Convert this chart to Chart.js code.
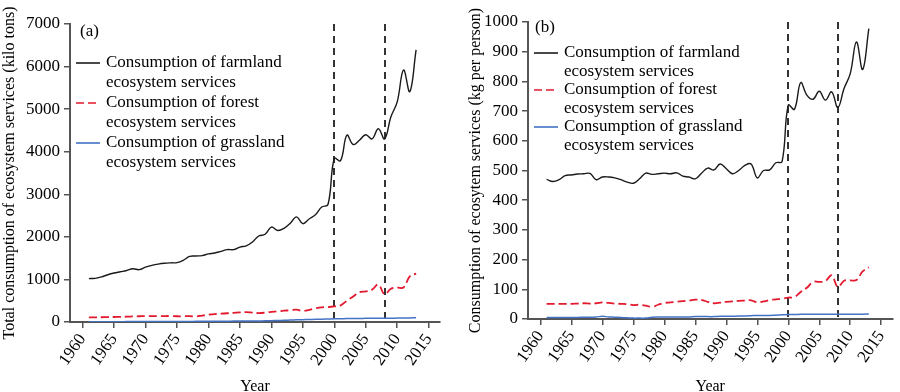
<!DOCTYPE html>
<html>
<head>
<meta charset="utf-8">
<script src="https://cdn.jsdelivr.net/npm/chart.js@4.4.1/dist/chart.umd.min.js"></script>
<style>
  html, body { margin: 0; padding: 0; background: #fff; }
  .panel { position: absolute; top: 0; width: 450px; height: 392px; }
  #wrapA { left: 0; }
  #wrapB { left: 450px; }
</style>
</head>
<body>
<div class="panel" id="wrapA"><canvas id="chartA"></canvas></div>
<div class="panel" id="wrapB"><canvas id="chartB"></canvas></div>
<script>
// data, 1961-2013
const years = [1961, 1962, 1963, 1964, 1965, 1966, 1967, 1968, 1969, 1970,
  1971, 1972, 1973, 1974, 1975, 1976, 1977, 1978, 1979, 1980,
  1981, 1982, 1983, 1984, 1985, 1986, 1987, 1988, 1989, 1990,
  1991, 1992, 1993, 1994, 1995, 1996, 1997, 1998, 1999, 2000,
  2001, 2002, 2003, 2004, 2005, 2006, 2007, 2008, 2009, 2010,
  2011, 2012, 2013];
const xTicks = [1960, 1965, 1970, 1975, 1980, 1985, 1990, 1995, 2000, 2005, 2010, 2015];
const markerYears = [2000, 2008];
const seriesNames = [
  ['Consumption of farmland', 'ecosystem services'],
  ['Consumption of forest', 'ecosystem services'],
  ['Consumption of grassland', 'ecosystem services']
];

// (a) total consumption, kilo tons
const farmlandTotal = [1020, 1025, 1060, 1110, 1150, 1180, 1210, 1250, 1230, 1290,
  1330, 1360, 1380, 1390, 1395, 1450, 1540, 1550, 1560, 1600,
  1620, 1660, 1700, 1700, 1760, 1790, 1880, 2020, 2060, 2230,
  2150, 2200, 2320, 2470, 2310, 2420, 2520, 2700, 2760, 3840,
  3790, 4390, 4170, 4270, 4400, 4300, 4540, 4300, 4820, 5170,
  5920, 5410, 6390];
const forestTotal = [110, 110, 112, 115, 118, 120, 125, 130, 135, 140,
  138, 138, 140, 140, 135, 135, 138, 130, 150, 170,
  185, 195, 205, 215, 225, 230, 220, 210, 220, 240,
  250, 265, 275, 290, 260, 285, 320, 345, 350, 365,
  390, 500, 600, 700, 720, 760, 880, 650, 780, 805,
  810, 1070, 1135];
const grasslandTotal = [5, 6, 6, 7, 8, 8, 9, 10, 11, 13,
  11, 11, 12, 12, 12, 13, 14, 15, 16, 18,
  18, 19, 20, 21, 22, 23, 24, 26, 27, 30,
  35, 40, 46, 50, 55, 58, 62, 66, 70, 74,
  78, 80, 82, 84, 86, 87, 88, 89, 90, 92,
  94, 96, 98];

// (b) per capita consumption, kg per person
const farmlandPerCap = [470, 463, 469, 483, 485, 488, 489, 490, 469, 478,
  478, 475, 469, 461, 457, 472, 491, 487, 489, 491,
  489, 492, 481, 478, 472, 491, 508, 502, 522, 506,
  489, 500, 517, 522, 475, 500, 502, 526, 530, 720,
  706, 796, 754, 740, 767, 737, 765, 712, 776, 826,
  933, 840, 978];
const forestPerCap = [51, 51, 51, 51, 51, 52, 53, 52, 53, 56,
  54, 52, 51, 50, 47, 48, 45, 41, 48, 54,
  56, 58, 60, 62, 65, 64, 58, 53, 55, 58,
  59, 61, 62, 63, 56, 59, 64, 66, 68, 72,
  74, 91, 105, 125, 125, 128, 147, 108, 129, 130,
  131, 160, 174];
const grasslandPerCap = [5, 5, 5, 5, 5, 5, 6, 6, 7, 9,
  7, 6, 5, 4, 3, 3, 3, 6, 7, 7,
  7, 7, 7, 7, 8, 8, 8, 8, 9, 9,
  9, 10, 10, 11, 12, 12, 12, 13, 14, 15,
  15, 16, 16, 16, 16, 16, 16, 16, 16, 16,
  16, 16, 17];

const serif = '"Liberation Serif", "Times New Roman", serif';
const axisGrey = '#555';

const panelDecor = {
  id: 'panelDecor',
  beforeDatasetsDraw(chart, args, opts) {
    const { ctx, chartArea: a, scales: { x } } = chart;
    ctx.save();
    ctx.strokeStyle = '#333';
    ctx.lineWidth = 2;
    ctx.setLineDash([7, 5]);
    markerYears.forEach(yr => {
      const px = Math.round(x.getPixelForValue(yr));
      ctx.beginPath();
      ctx.moveTo(px, a.top);
      ctx.lineTo(px, a.bottom);
      ctx.stroke();
    });
    ctx.restore();
  },
  afterDatasetsDraw(chart, args, opts) {
    const { ctx, chartArea: a } = chart;
    ctx.save();
    ctx.font = '17px ' + serif;
    ctx.fillStyle = '#000';
    ctx.textBaseline = 'middle';
    ctx.fillText(opts.letter, a.left + opts.letterDx, a.top + opts.letterDy);
    chart.data.datasets.forEach((ds, i) => {
      const y0 = a.top + opts.legendTop + i * opts.entryGap;
      ctx.strokeStyle = ds.borderColor;
      ctx.lineWidth = 1.6;
      ctx.setLineDash(ds.borderDash || []);
      ctx.beginPath();
      ctx.moveTo(a.left + 6, y0);
      ctx.lineTo(a.left + 30, y0);
      ctx.stroke();
      seriesNames[i].forEach((t, j) => ctx.fillText(t, a.left + 36, y0 + j * opts.lineGap));
    });
    ctx.restore();
  }
};

function pts(vals) {
  return years.map((yr, i) => ({ x: yr, y: vals[i] }));
}

function makeConfig(vals, yMax, yStep, yTitle, pan) {
  const tickFont = { family: serif, size: 17 };
  const titleFont = { family: serif, size: 16 };
  return {
    type: 'line',
    data: {
      datasets: [
        { data: pts(vals[0]), borderColor: '#1a1a1a', borderWidth: 1.4 },
        { data: pts(vals[1]), borderColor: '#e3192d', borderWidth: 1.8, borderDash: [8, 4] },
        { data: pts(vals[2]), borderColor: '#4472c4', borderWidth: 1.5 }
      ]
    },
    options: {
      responsive: true,
      maintainAspectRatio: false,
      animation: false,
      layout: { padding: pan.padding },
      elements: { point: { radius: 0 }, line: { tension: 0.4 } },
      plugins: {
        legend: { display: false },
        tooltip: { enabled: false },
        panelDecor: pan.decor
      },
      scales: {
        x: {
          type: 'linear',
          min: 1958,
          max: 2016.8,
          afterBuildTicks: s => { s.ticks = xTicks.map(v => ({ value: v })); },
          afterFit: s => { s.height = pan.xHeight; },
          grid: { drawOnChartArea: false, drawTicks: true, tickLength: 6, color: axisGrey, lineWidth: 1.5 },
          border: { color: axisGrey, width: 2 },
          ticks: { autoSkip: false, maxRotation: 55, minRotation: 55, padding: 2, color: '#000', font: tickFont,
            callback: v => String(v) },
          title: { display: true, text: 'Year', color: '#000', font: titleFont, padding: { top: 0, bottom: -4 } }
        },
        y: {
          min: 0,
          max: yMax,
          afterFit: s => { s.width = pan.yWidth; },
          grid: { drawOnChartArea: false, drawTicks: true, tickLength: 6, color: axisGrey, lineWidth: 1.5 },
          border: { color: axisGrey, width: 2 },
          ticks: { stepSize: yStep, padding: 4, color: '#000', font: tickFont, callback: v => String(v) },
          title: { display: true, text: yTitle, color: '#000', font: titleFont, padding: { top: pan.titlePad, bottom: 0 } }
        }
      }
    },
    plugins: [panelDecor]
  };
}

new Chart(document.getElementById('chartA'), makeConfig(
  [farmlandTotal, forestTotal, grasslandTotal], 7000, 1000,
  'Total consumption of ecosystem services (kilo tons)',
  {
    padding: { top: 24, right: 10, left: 0, bottom: 0 },
    xHeight: 70, yWidth: 70, titlePad: 0,
    decor: { letter: '(a)', letterDx: 10, letterDy: 8, legendTop: 39, entryGap: 40, lineGap: 20 }
  }
));

new Chart(document.getElementById('chartB'), makeConfig(
  [farmlandPerCap, forestPerCap, grasslandPerCap], 1000, 100,
  'Consumption of ecosytem services (kg per person)',
  {
    padding: { top: 22, right: 2, left: 0, bottom: 0 },
    xHeight: 73, yWidth: 78, titlePad: 16,
    decor: { letter: '(b)', letterDx: 7, letterDy: 6, legendTop: 31, entryGap: 37, lineGap: 19 }
  }
));
</script>
</body>
</html>
